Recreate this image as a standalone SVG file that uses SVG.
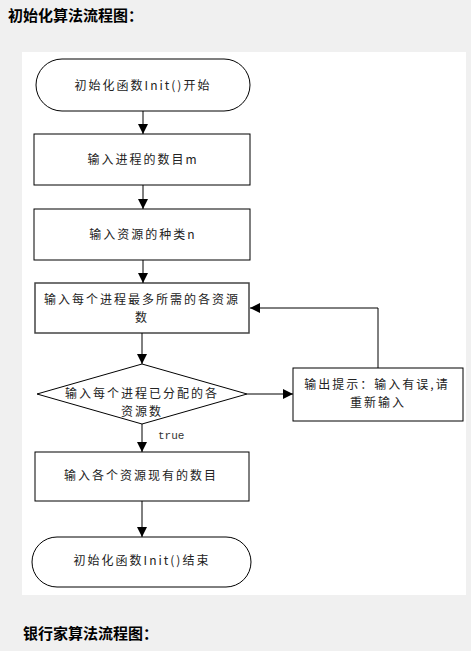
<svg xmlns="http://www.w3.org/2000/svg" width="471" height="651" viewBox="0 0 471 651">
<defs>
<style>
.shape{fill:#fff;stroke:#000;stroke-width:1}
.t{font-family:"Noto Sans CJK SC","Liberation Sans",sans-serif;font-size:12px;fill:#222;text-anchor:middle;letter-spacing:2px}
.title{font-family:"Noto Sans CJK SC",sans-serif;font-size:15px;font-weight:bold;fill:#000}
.line{fill:none;stroke:#000;stroke-width:1}
.lbl{font-family:"Liberation Mono",monospace;font-size:11px;fill:#333}
</style>
<marker id="ah" viewBox="0 0 10 10" refX="10" refY="5" markerWidth="10" markerHeight="10" markerUnits="userSpaceOnUse" orient="auto">
<path d="M0,0 L10,5 L0,10 Z" fill="#000"/>
</marker>
</defs>
<rect x="0" y="0" width="471" height="651" fill="#f0f0f0"/>
<rect x="22" y="52" width="444" height="543" fill="#fff"/>
<text class="title" x="8" y="21">初始化算法流程图：</text>
<text class="title" x="23" y="639">银行家算法流程图：</text>

<g id="start">
<rect class="shape" x="36" y="59" width="214" height="52" rx="26" ry="26"/>
<text class="t" x="143" y="90">初始化函数Init()开始</text>
</g>
<g id="n1">
<rect class="shape" x="34" y="134" width="216" height="51"/>
<text class="t" x="143" y="164">输入进程的数目m</text>
</g>
<g id="n2">
<rect class="shape" x="34" y="209" width="216" height="51"/>
<text class="t" x="143" y="239">输入资源的种类n</text>
</g>
<g id="n3">
<rect class="shape" x="35" y="283" width="214" height="50" style="stroke:#444;stroke-width:1.5"/>
<text class="t" x="142" y="304">输入每个进程最多所需的各资源</text>
<text class="t" x="142" y="322">数</text>
</g>
<g id="d1">
<polygon class="shape" points="142,364 247,394 142,424 37,394"/>
<text class="t" x="142" y="398">输入每个进程已分配的各</text>
<text class="t" x="142" y="416">资源数</text>
</g>
<g id="err">
<rect class="shape" x="293" y="368" width="170" height="53"/>
<text class="t" x="377" y="389">输出提示：输入有误,请</text>
<text class="t" x="378" y="407">重新输入</text>
</g>
<g id="n4">
<rect class="shape" x="35" y="452" width="214" height="49"/>
<text class="t" x="141" y="480">输入各个资源现有的数目</text>
</g>
<g id="end">
<rect class="shape" x="32" y="537" width="219" height="50" rx="25" ry="25"/>
<text class="t" x="142" y="565">初始化函数Init()结束</text>
</g>

<g id="connectors">
<line class="line" x1="143" y1="111" x2="143" y2="134" marker-end="url(#ah)"/>
<line class="line" x1="143" y1="185" x2="143" y2="209" marker-end="url(#ah)"/>
<line class="line" x1="143" y1="260" x2="143" y2="283" marker-end="url(#ah)"/>
<line class="line" x1="142" y1="333" x2="142" y2="364" marker-end="url(#ah)"/>
<line class="line" x1="247" y1="394" x2="293" y2="394" marker-end="url(#ah)"/>
<polyline class="line" points="378,368 378,308 250,308" marker-end="url(#ah)"/>
<line class="line" x1="142" y1="424" x2="142" y2="452" marker-end="url(#ah)"/>
<text class="lbl" x="158" y="439">true</text>
<line class="line" x1="142" y1="501" x2="142" y2="537" marker-end="url(#ah)"/>
</g>
</svg>
